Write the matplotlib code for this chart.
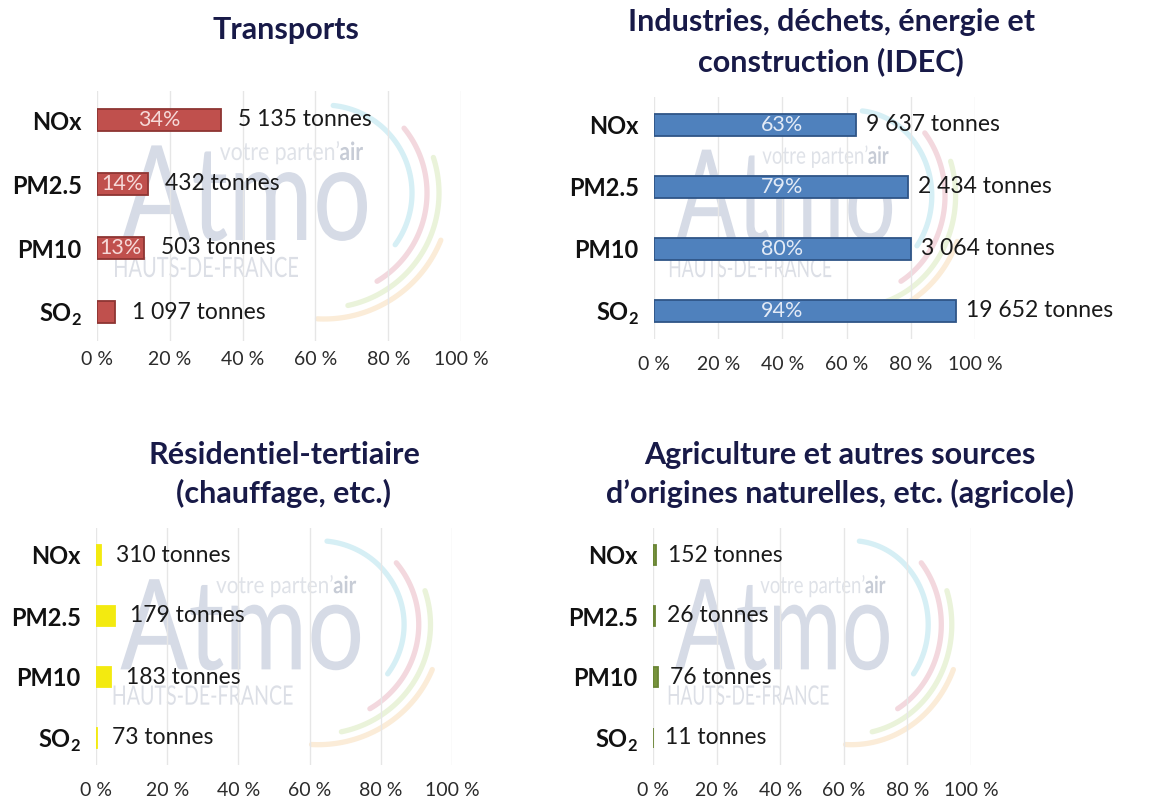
import matplotlib
matplotlib.use("Agg")
import numpy as np
import matplotlib.pyplot as plt
from matplotlib.textpath import TextPath
from matplotlib.patches import PathPatch
from matplotlib.font_manager import FontProperties
from matplotlib.transforms import Affine2D
from matplotlib.lines import Line2D

plt.rcParams["font.family"] = ["Lato", "DejaVu Sans"]
plt.rcParams["mathtext.fontset"] = "custom"
plt.rcParams["mathtext.rm"] = "Lato"
plt.rcParams["mathtext.bf"] = "Lato:bold"

# ---- data -------------------------------------------------------------
pollutants = ["NOx", "PM2.5", "PM10", r"SO$_\mathbf{2}$"]

transport_share = [34, 14, 13, 5]
transport_tonnes = [5135, 432, 503, 1097]

idec_share = [63, 79, 80, 94]
idec_tonnes = [9637, 2434, 3064, 19652]

resid_share = [1.5, 5.3, 4.2, 0.2]
resid_tonnes = [310, 179, 183, 73]

agri_share = [0.8, 0.5, 1.7, 0.1]
agri_tonnes = [152, 26, 76, 11]

x_ticks = [0, 20, 40, 60, 80, 100]
x_tick_labels = ["0 %", "20 %", "40 %", "60 %", "80 %", "100 %"]

titles = [
    ["Transports"],
    ["Industries, déchets, énergie et", "construction (IDEC)"],
    ["Résidentiel-tertiaire", "(chauffage, etc.)"],
    ["Agriculture et autres sources", "d\u2019origines naturelles, etc. (agricole)"],
]

# ---- layout (pixels on a 1157 x 801 canvas) ---------------------------
W, H = 1157, 801
fig = plt.figure(figsize=(W / 100, H / 100), dpi=100)
fig.patch.set_facecolor("white")

NAVY = "#181a48"

panels = [
    dict(share=transport_share, tonnes=transport_tonnes, face="#c0504d", edge="#8e3533",
         pct_color="#f6d9d8", x0=97, x100=461, r0=120, r3=312, gap=17, pad=7, pct_at=None,
         title_x=286, title_y=[30]),
    dict(share=idec_share, tonnes=idec_tonnes, face="#4f81bd", edge="#2f5587",
         pct_color="#e2eaf6", x0=654, x100=975, r0=125, r3=311, gap=10, pad=12, pct_at=40,
         title_x=831, title_y=[22, 62]),
    dict(share=resid_share, tonnes=resid_tonnes, face="#f3ea10", edge="#f3ea10",
         pct_color="white", x0=96, x100=452, r0=555, r3=738, gap=15, pad=12, pct_at=None,
         title_x=284, title_y=[455, 493]),
    dict(share=agri_share, tonnes=agri_tonnes, face="#77933c", edge="#6a8535",
         pct_color="white", x0=653, x100=971, r0=555, r3=738, gap=12, pad=12, pct_at=None,
         title_x=840, title_y=[455, 493]),
]

REF_XSCALE = (461 - 97) / 100.0
REF_ROW = (312 - 120) / 3.0


def fx(px):
    return px / W


def fy(py):
    return 1 - py / H


def fig_path(text, left, right, baseline, em, color, weight="normal", family="Lato"):
    """Text outline stretched into a box given in canvas pixels."""
    tp = TextPath((0, 0), text, size=100, prop=FontProperties(family=family, weight=weight))
    ext = tp.get_extents()
    kx = (right - left) / ext.width
    ky = em / 100.0
    tr = (Affine2D().translate(-ext.x0, 0).scale(kx, ky)
          .translate(left, H - baseline).scale(1 / W, 1 / H) + fig.transFigure)
    patch = PathPatch(tp, transform=tr, facecolor=color, edgecolor="none", zorder=0.3)
    fig.add_artist(patch)


def watermark(x0, r0, sx, sy):
    X = lambda d: x0 + d * sx
    Y = lambda d: r0 + d * sy
    fig_path("Atmo", X(25), X(270), Y(120), 132 * sy, "#d6dbe6")
    fig_path("votre parten\u2019", X(123), X(242), Y(40), 25 * sy, "#dfe2e8")
    fig_path("air", X(243), X(266), Y(40), 25 * sy, "#c7ccd6", weight="bold")
    fig_path("HAUTS-DE-FRANCE", X(18), X(201), Y(157), 28 * sy, "#dcdfe6")
    cx, cy = 227, 73
    arcs = [(88, -36, 84, "#d6eff5"), (103, -59, 39, "#f3d8de"),
            (115, -78, 18, "#eaf3da"), (126, -93, -22, "#fbecd8")]
    for r, a1, a2, col in arcs:
        t = np.radians(np.linspace(a1, a2, 120))
        px = [X(cx + r * np.cos(v)) for v in t]
        py = [Y(cy - r * np.sin(v)) for v in t]
        fig.add_artist(Line2D([fx(p) for p in px], [fy(p) for p in py],
                              transform=fig.transFigure, color=col, lw=3.8,
                              solid_capstyle="round", zorder=0.3))


def fmt_tonnes(v):
    return f"{v:,}".replace(",", " ") + " tonnes"


for k, p in enumerate(panels):
    s = (p["r3"] - p["r0"]) / 3.0
    top = p["r0"] - 0.45 * s
    bottom = p["r3"] + 0.45 * s
    watermark(p["x0"], p["r0"], (p["x100"] - p["x0"]) / 100.0 / REF_XSCALE, s / REF_ROW)

    ax = fig.add_axes([fx(p["x0"]), fy(bottom), (p["x100"] - p["x0"]) / W, (bottom - top) / H])
    ax.set_zorder(1)
    ax.set_facecolor("none")
    ax.set_xlim(0, 100)
    ax.set_ylim(3.45, -0.45)
    for sp in ax.spines.values():
        sp.set_visible(False)

    ax.set_xticks(x_ticks)
    ax.set_xticklabels(x_tick_labels, fontsize=14, color="#2b2b2b")
    ax.xaxis.grid(True, color="#e6e6e6", lw=1.0)
    ax.set_axisbelow(True)
    ax.set_yticks(range(len(pollutants)))
    ax.set_yticklabels(pollutants, fontsize=17, fontweight="bold", color="#111111")
    ax.tick_params(axis="both", length=0)
    ax.tick_params(axis="x", pad=p["pad"])
    ax.tick_params(axis="y", pad=11)

    ypos = np.arange(len(pollutants))
    ax.barh(ypos, p["share"], height=0.34, color=p["face"], edgecolor=p["edge"], lw=1.3)

    for i, (v, t) in enumerate(zip(p["share"], p["tonnes"])):
        ax.annotate(fmt_tonnes(t), xy=(v, i), xytext=(p["gap"] * 0.72, 0),
                    textcoords="offset points", va="center", ha="left",
                    fontsize=16.5, color="#1a1a1a", annotation_clip=False)
        if v >= 10:
            xl = v / 2 if p["pct_at"] is None else p["pct_at"]
            ax.text(xl, i, f"{v:g}%", ha="center", va="center", fontsize=15.5,
                    color=p["pct_color"])

    for line, ty in zip(titles[k], p["title_y"]):
        fig.text(fx(p["title_x"]), fy(ty), line, ha="center", va="center",
                 fontsize=22, fontweight="bold", color=NAVY)

fig.savefig("out.png", dpi=100, facecolor="white")
